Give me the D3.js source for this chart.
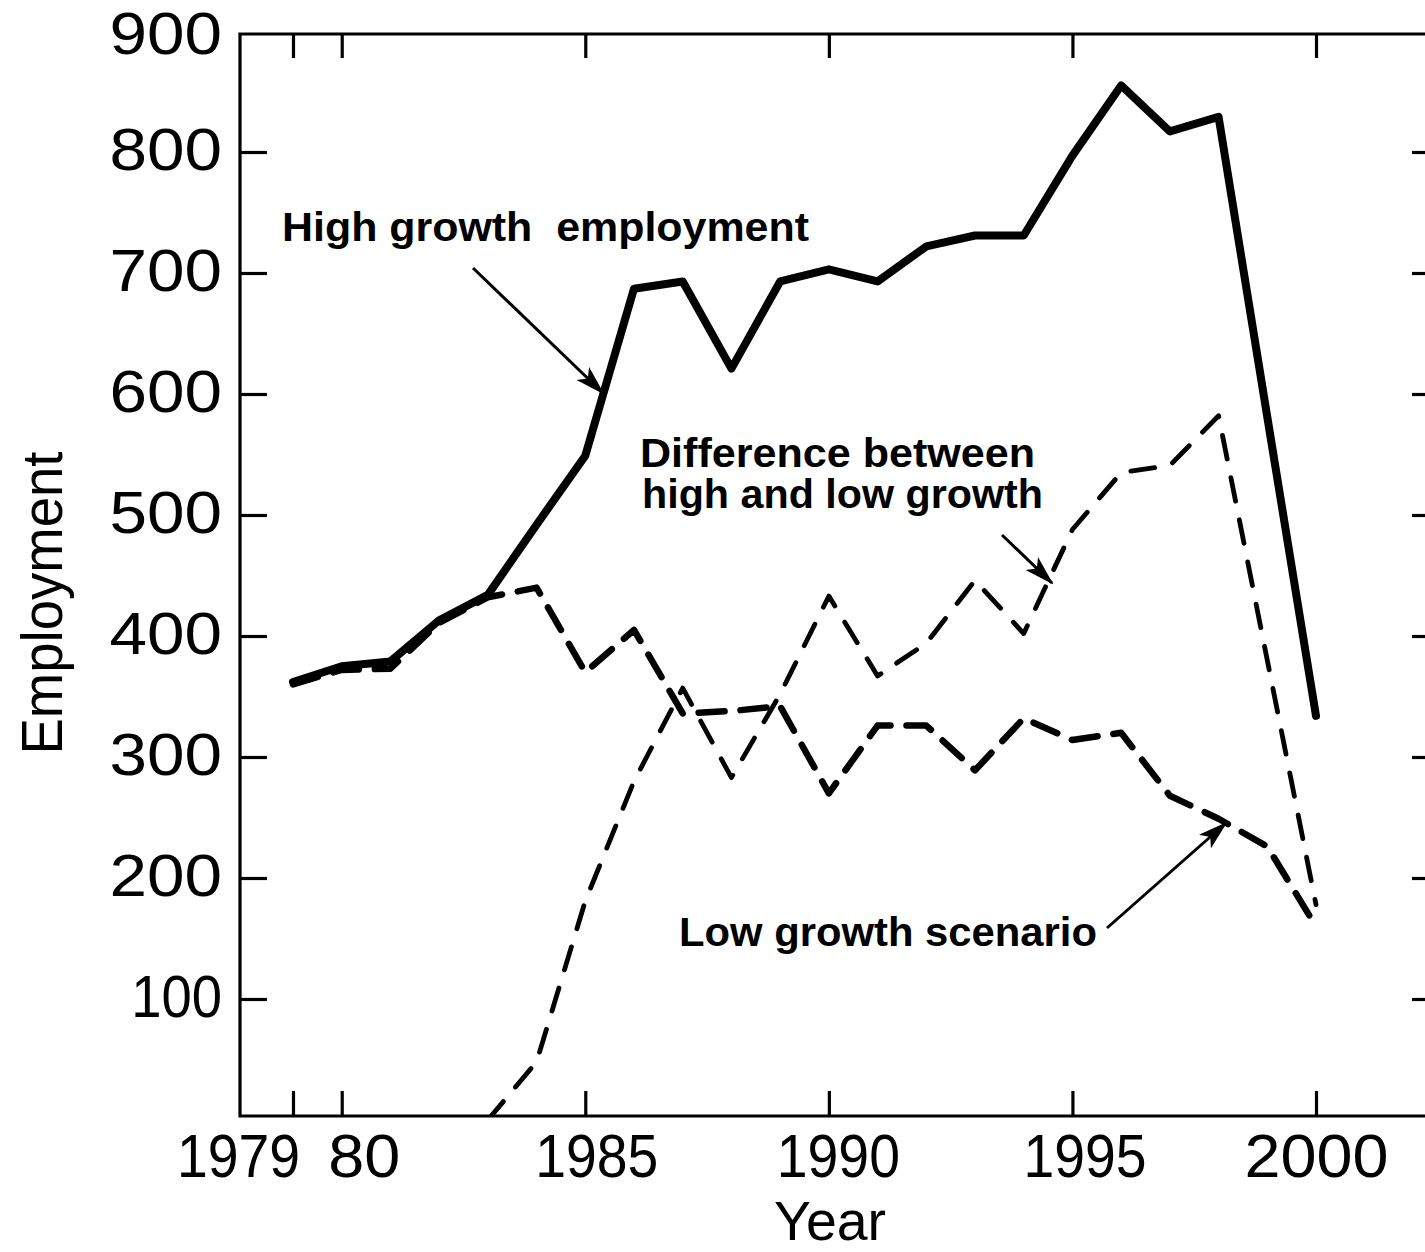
<!DOCTYPE html>
<html><head><meta charset="utf-8">
<script src="https://cdn.jsdelivr.net/npm/d3@7"></script>
<style>
body{margin:0;background:#fff}
svg{display:block}
text{fill:#000}
</style>
</head><body>
<svg id="chart" width="1425" height="1252"></svg>
<script>
// ---------------- data ----------------
const years = [1979,1980,1981,1982,1983,1984,1985,1986,1987,1988,1989,1990,1991,1992,1993,1994,1995,1996,1997,1998,1999,2000];
const highGrowth = [362,375,379,413,434,492,549,687,693,621,693,703,693,722,731,731,797,855,817,829,581,334];
const lowGrowth  = [360,372,373,411,432,440,370,405,336,338,342,270,326,326,289,332,314,320,268,249,226,160];
const diffYears  = [1983,1984,1985,1986,1987,1988,1989,1990,1991,1992,1993,1994,1995,1996,1997,1998,1999,2000];
const difference = [0,48,181,280,357,283,352,433,367,394,446,402,488,535,541,582,380,178];
const xTickValues = [1979,1980,1985,1990,1995,2000];
const xTickLabels = ["1979","80","1985","1990","1995","2000"];
const yTickValues = [100,200,300,400,500,600,700,800,900];
const yTickLabels = ["100","200","300","400","500","600","700","800","900"];
const labels = {
  high: "High growth  employment",
  diff1: "Difference between",
  diff2: "high and low growth",
  low: "Low growth scenario",
  xTitle: "Year",
  yTitle: "Employment"
};

// ---------------- layout ----------------
const svg = d3.select("#chart");
const L = 240, R = 1434, T = 34, B = 1116;
const x = d3.scaleLinear().domain([1979, 2000]).range([293, 1316]);
const y = d3.scaleLinear().domain([0, 900]).range([1120, 31]);
const FONT = "'Liberation Sans', Arial, sans-serif";

function digitWidth(s, unit){ let w=0; for(const c of s) w += (c==="1"?0.42:1)*unit; return w; }

const defs = svg.append("defs");
defs.append("clipPath").attr("id","plot")
  .append("rect").attr("x",L).attr("y",T).attr("width",R-L).attr("height",B-T);
defs.append("marker").attr("id","arrow")
  .attr("markerUnits","userSpaceOnUse")
  .attr("viewBox","0 0 30 20").attr("refX",28).attr("refY",10)
  .attr("markerWidth",30).attr("markerHeight",20).attr("orient","auto")
  .append("path").attr("d","M0,1 L30,10 L0,19 L7,10 Z").attr("fill","#000");

// frame
svg.append("path")
  .attr("d", `M${R},${T} L${L},${T} L${L},${B} L${R},${B}`)
  .attr("fill","none").attr("stroke","#000").attr("stroke-width",3.2);

// left axis
const yLeft = svg.append("g").attr("transform",`translate(${L},0)`)
  .call(d3.axisLeft(y).tickValues(yTickValues).tickSize(-27).tickPadding(18)
    .tickFormat((d,i)=>yTickLabels[i]));
yLeft.select(".domain").remove();
yLeft.selectAll(".tick line").attr("stroke","#000").attr("stroke-width",3.2)
  .filter(d=>d===900).remove();
yLeft.selectAll(".tick text")
  .attr("font-family",FONT).attr("font-size",59).attr("fill","#000")
  .attr("dy","0.33em")
  .attr("textLength",(d,i)=>digitWidth(yTickLabels[i],37.5))
  .attr("lengthAdjust","spacingAndGlyphs")
  .attr("transform",d=>d===900?"translate(0,3)":"translate(0,-2)");

// right ticks
const yRight = svg.append("g").attr("transform",`translate(${R},0)`)
  .call(d3.axisRight(y).tickValues(yTickValues.filter(v=>v<900)).tickSize(-22).tickFormat(""));
yRight.select(".domain").remove();
yRight.selectAll(".tick line").attr("stroke","#000").attr("stroke-width",3.2);

// bottom axis
const xOff = {1979:-55, 1980:22, 1985:11, 1990:9, 1995:12, 2000:0};
const xB = svg.append("g").attr("transform",`translate(0,${B})`)
  .call(d3.axisBottom(x).tickValues(xTickValues).tickSize(-25).tickPadding(17)
    .tickFormat((d,i)=>xTickLabels[i]));
xB.select(".domain").remove();
xB.selectAll(".tick line").attr("stroke","#000").attr("stroke-width",3.2);
xB.selectAll(".tick text")
  .attr("font-family",FONT).attr("font-size",62).attr("fill","#000")
  .attr("dx",d=>xOff[d])
  .attr("textLength",(d,i)=>digitWidth(xTickLabels[i],36))
  .attr("lengthAdjust","spacingAndGlyphs");

// top ticks
const xT = svg.append("g").attr("transform",`translate(0,${T})`)
  .call(d3.axisTop(x).tickValues(xTickValues).tickSize(-24).tickFormat(""));
xT.select(".domain").remove();
xT.selectAll(".tick line").attr("stroke","#000").attr("stroke-width",3.2);

// axis titles
svg.append("text").text(labels.xTitle)
  .attr("x",830).attr("y",1240).attr("text-anchor","middle")
  .attr("font-family",FONT).attr("font-size",55)
  .attr("textLength",112).attr("lengthAdjust","spacingAndGlyphs");
svg.append("text").text(labels.yTitle)
  .attr("transform","translate(62,603) rotate(-90)").attr("text-anchor","middle")
  .attr("font-family",FONT).attr("font-size",58)
  .attr("textLength",303).attr("lengthAdjust","spacingAndGlyphs");

// ---------------- lines ----------------
const line = d3.line().x(d=>x(d[0])).y(d=>y(d[1]));
const plot = svg.append("g").attr("clip-path","url(#plot)");

plot.append("path")
  .attr("d", line(diffYears.map((yr,i)=>[yr,difference[i]])))
  .attr("fill","none").attr("stroke","#000").attr("stroke-width",4.8)
  .attr("stroke-dasharray","24,19").attr("stroke-linecap","round").attr("stroke-linejoin","round");

plot.append("path")
  .attr("d", line(years.map((yr,i)=>[yr,lowGrowth[i]])))
  .attr("fill","none").attr("stroke","#000").attr("stroke-width",6.5)
  .attr("stroke-dasharray","26,16").attr("stroke-linecap","round").attr("stroke-linejoin","round");

plot.append("path")
  .attr("d", line(years.map((yr,i)=>[yr,highGrowth[i]])))
  .attr("fill","none").attr("stroke","#000").attr("stroke-width",8)
  .attr("stroke-linecap","round").attr("stroke-linejoin","round");

// ---------------- annotations ----------------
function ann(lines, xx, yy, lens){
  const t = svg.append("text").attr("font-family",FONT).attr("font-weight","bold")
    .attr("font-size",40).style("white-space","pre");
  lines.forEach((s,i)=>{
    t.append("tspan").text(s).attr("x",xx[i]).attr("y",yy[i])
      .attr("textLength",lens[i]).attr("lengthAdjust","spacingAndGlyphs");
  });
}
ann([labels.high], [282], [241], [527]);
ann([labels.diff1, labels.diff2], [640, 642], [467, 508], [395, 401]);
ann([labels.low], [679], [946], [418]);

function arrow(x1,y1,x2,y2){
  svg.append("line").attr("x1",x1).attr("y1",y1).attr("x2",x2).attr("y2",y2)
    .attr("stroke","#000").attr("stroke-width",3).attr("marker-end","url(#arrow)");
}
arrow(473,268,603,393);
arrow(1002,535,1052,583);
arrow(1107,928,1226,823);
</script>
</body></html>
